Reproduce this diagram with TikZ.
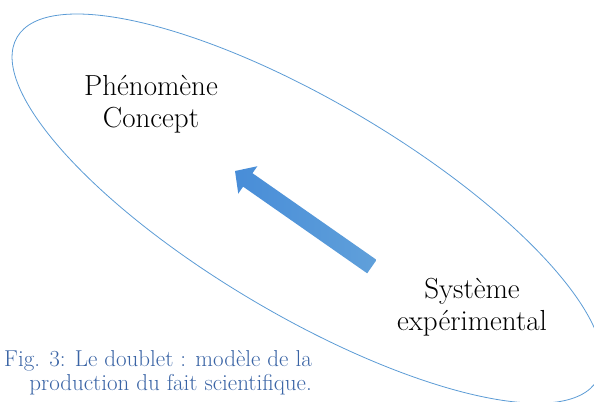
\documentclass[tikz,border=0pt]{standalone}
\usepackage{fontspec}
\usepackage{xcolor}
\usepackage{tikz}
\usetikzlibrary{calc, positioning}

\definecolor{ringblue}{RGB}{91,155,213}
\definecolor{arrowdark}{RGB}{72,141,216}
\definecolor{arrowlight}{RGB}{96,160,218}
\definecolor{captionblue}{RGB}{58,100,165}

\begin{document}
\begin{tikzpicture}[
    ringline/.style={draw=ringblue, line width=0.8pt},
    polelabel/.style={font=\fontsize{29}{32}\selectfont, align=center, inner sep=0pt},
    figcaption/.style={font=\fontsize{23}{23.5}\selectfont, text=captionblue, align=right, inner sep=0pt}
]

% ==================== FRAME ====================
\clip (0, 0) rectangle (20.877, -14.094);

% ==================== DOUBLET ====================
\coordinate (ctr) at (10.797, -7.332);
\draw[ringline, rotate around={-30.6:(ctr)}] (ctr) ellipse [x radius=11.844, y radius=3.75];

\node[polelabel] (concept) at (5.307, -3.678) {Phénomène\\Concept};
\node[polelabel] (systeme) at (16.589, -10.813) {Système\\expérimental};

% Arrow from the system towards the concept
\coordinate (tail) at (13.07, -9.37);
\coordinate (tip) at (8.26, -6.01);
\coordinate (hb) at ($(tip)!15.6pt!(tail)$);
\shade[left color=arrowdark, right color=arrowlight]
    (tip) -- ($(hb)!16.7pt!90:(tip)$) -- ($(hb)!8.2pt!90:(tip)$)
    -- ($(tail)!8.2pt!90:(hb)$) -- ($(tail)!8.2pt!-90:(hb)$)
    -- ($(hb)!8.2pt!-90:(tip)$) -- ($(hb)!16.7pt!-90:(tip)$) -- cycle;

% Caption
\node[figcaption, anchor=east] (legend) at (10.966, -13.099) {Fig. 3: Le doublet : modèle de la\\production du fait scientifique.};

\end{tikzpicture}
\end{document}
